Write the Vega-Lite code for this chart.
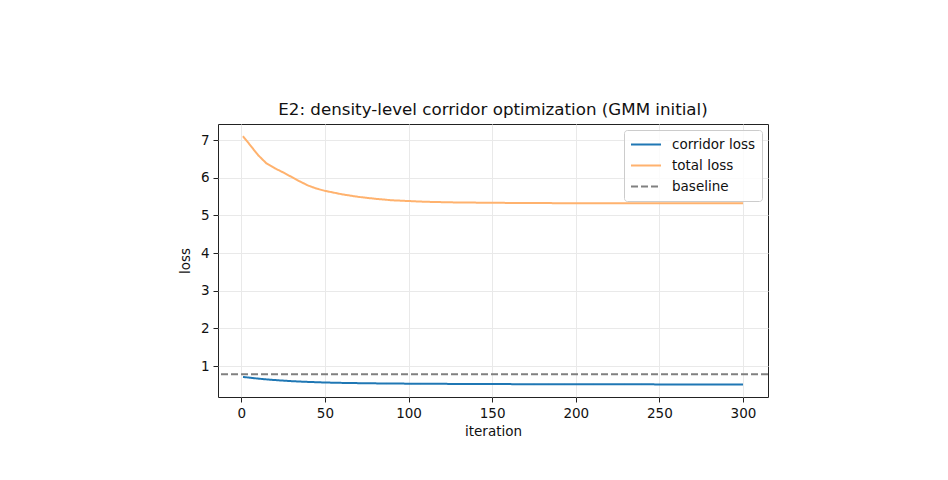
{
  "$schema": "https://vega.github.io/schema/vega-lite/v6.json",
  "autosize": {"type": "none"},
  "width": 550,
  "height": 273,
  "padding": {"left": 218, "top": 124, "right": 180, "bottom": 83},
  "background": "white",
  "config": {
    "font": "DejaVu Sans",
    "view": {"stroke": "#222222", "strokeWidth": 1},
    "axis": {
      "domain": false,
      "grid": true,
      "gridColor": "#e9e9e9",
      "gridWidth": 1,
      "tickColor": "#222222",
      "tickSize": 5,
      "tickWidth": 1,
      "labelColor": "#111111",
      "labelFontSize": 13.5,
      "labelPadding": 4,
      "titleColor": "#111111",
      "titleFontSize": 13.5,
      "titleFontWeight": "normal"
    },
    "title": {"fontSize": 16.7, "fontWeight": "normal", "color": "#111111", "offset": 5}
  },
  "title": "E2: density-level corridor optimization (GMM initial)",
  "datasets": {
    "history": [
      {"iteration": 1, "series": "corridor loss", "loss": 0.71},
      {"iteration": 5, "series": "corridor loss", "loss": 0.69},
      {"iteration": 10, "series": "corridor loss", "loss": 0.665},
      {"iteration": 15, "series": "corridor loss", "loss": 0.645},
      {"iteration": 20, "series": "corridor loss", "loss": 0.627},
      {"iteration": 25, "series": "corridor loss", "loss": 0.612},
      {"iteration": 30, "series": "corridor loss", "loss": 0.598},
      {"iteration": 35, "series": "corridor loss", "loss": 0.587},
      {"iteration": 40, "series": "corridor loss", "loss": 0.577},
      {"iteration": 50, "series": "corridor loss", "loss": 0.562},
      {"iteration": 60, "series": "corridor loss", "loss": 0.552},
      {"iteration": 70, "series": "corridor loss", "loss": 0.545},
      {"iteration": 80, "series": "corridor loss", "loss": 0.539},
      {"iteration": 100, "series": "corridor loss", "loss": 0.531},
      {"iteration": 125, "series": "corridor loss", "loss": 0.525},
      {"iteration": 150, "series": "corridor loss", "loss": 0.52},
      {"iteration": 200, "series": "corridor loss", "loss": 0.515},
      {"iteration": 250, "series": "corridor loss", "loss": 0.512},
      {"iteration": 300, "series": "corridor loss", "loss": 0.511},
      {"iteration": 1, "series": "total loss", "loss": 7.1},
      {"iteration": 5, "series": "total loss", "loss": 6.88},
      {"iteration": 10, "series": "total loss", "loss": 6.6},
      {"iteration": 15, "series": "total loss", "loss": 6.38},
      {"iteration": 20, "series": "total loss", "loss": 6.25},
      {"iteration": 25, "series": "total loss", "loss": 6.14},
      {"iteration": 30, "series": "total loss", "loss": 6.02},
      {"iteration": 35, "series": "total loss", "loss": 5.9},
      {"iteration": 40, "series": "total loss", "loss": 5.79},
      {"iteration": 45, "series": "total loss", "loss": 5.71},
      {"iteration": 50, "series": "total loss", "loss": 5.65},
      {"iteration": 60, "series": "total loss", "loss": 5.56},
      {"iteration": 70, "series": "total loss", "loss": 5.49},
      {"iteration": 80, "series": "total loss", "loss": 5.44},
      {"iteration": 90, "series": "total loss", "loss": 5.4},
      {"iteration": 100, "series": "total loss", "loss": 5.38},
      {"iteration": 110, "series": "total loss", "loss": 5.36},
      {"iteration": 125, "series": "total loss", "loss": 5.345},
      {"iteration": 150, "series": "total loss", "loss": 5.333},
      {"iteration": 175, "series": "total loss", "loss": 5.326},
      {"iteration": 200, "series": "total loss", "loss": 5.322},
      {"iteration": 250, "series": "total loss", "loss": 5.32},
      {"iteration": 300, "series": "total loss", "loss": 5.32}
    ],
    "reference": [
      {"series": "baseline", "loss": 0.78}
    ]
  },
  "layer": [
    {
      "data": {"name": "history"},
      "mark": {"type": "line", "strokeWidth": 2, "clip": true},
      "encoding": {
        "x": {
          "field": "iteration",
          "type": "quantitative",
          "title": "iteration",
          "scale": {"domain": [-13.95, 314.95], "nice": false, "zero": false},
          "axis": {"values": [0, 50, 100, 150, 200, 250, 300], "titlePadding": 5}
        },
        "y": {
          "field": "loss",
          "type": "quantitative",
          "title": "loss",
          "scale": {"domain": [0.177, 7.425], "nice": false, "zero": false},
          "axis": {"values": [1, 2, 3, 4, 5, 6, 7], "titlePadding": 8}
        },
        "color": {
          "field": "series",
          "type": "nominal",
          "sort": null,
          "scale": {
            "domain": ["corridor loss", "total loss", "baseline"],
            "range": ["#1f77b4", "#ffb26e", "#808080"]
          },
          "legend": {
            "title": null,
            "orient": "top-right",
            "offset": 6,
            "padding": 6,
            "symbolType": "stroke",
            "symbolSize": 900,
            "symbolStrokeWidth": 2,
            "clipHeight": 17,
            "labelFontSize": 13.5,
            "labelColor": "#111111",
            "labelOffset": 10,
            "rowPadding": 4,
            "strokeColor": "#cccccc",
            "fillColor": "rgba(255,255,255,0.8)",
            "cornerRadius": 3
          }
        },
        "strokeDash": {
          "field": "series",
          "type": "nominal",
          "sort": null,
          "scale": {
            "domain": ["corridor loss", "total loss", "baseline"],
            "range": [[1, 0], [1, 0], [7, 3]]
          },
          "legend": {"title": null}
        },
        "order": {"field": "iteration"}
      }
    },
    {
      "data": {"name": "reference"},
      "mark": {"type": "rule", "strokeWidth": 2},
      "encoding": {
        "y": {"field": "loss", "type": "quantitative"},
        "color": {"field": "series", "type": "nominal"},
        "strokeDash": {"field": "series", "type": "nominal"}
      }
    }
  ]
}
